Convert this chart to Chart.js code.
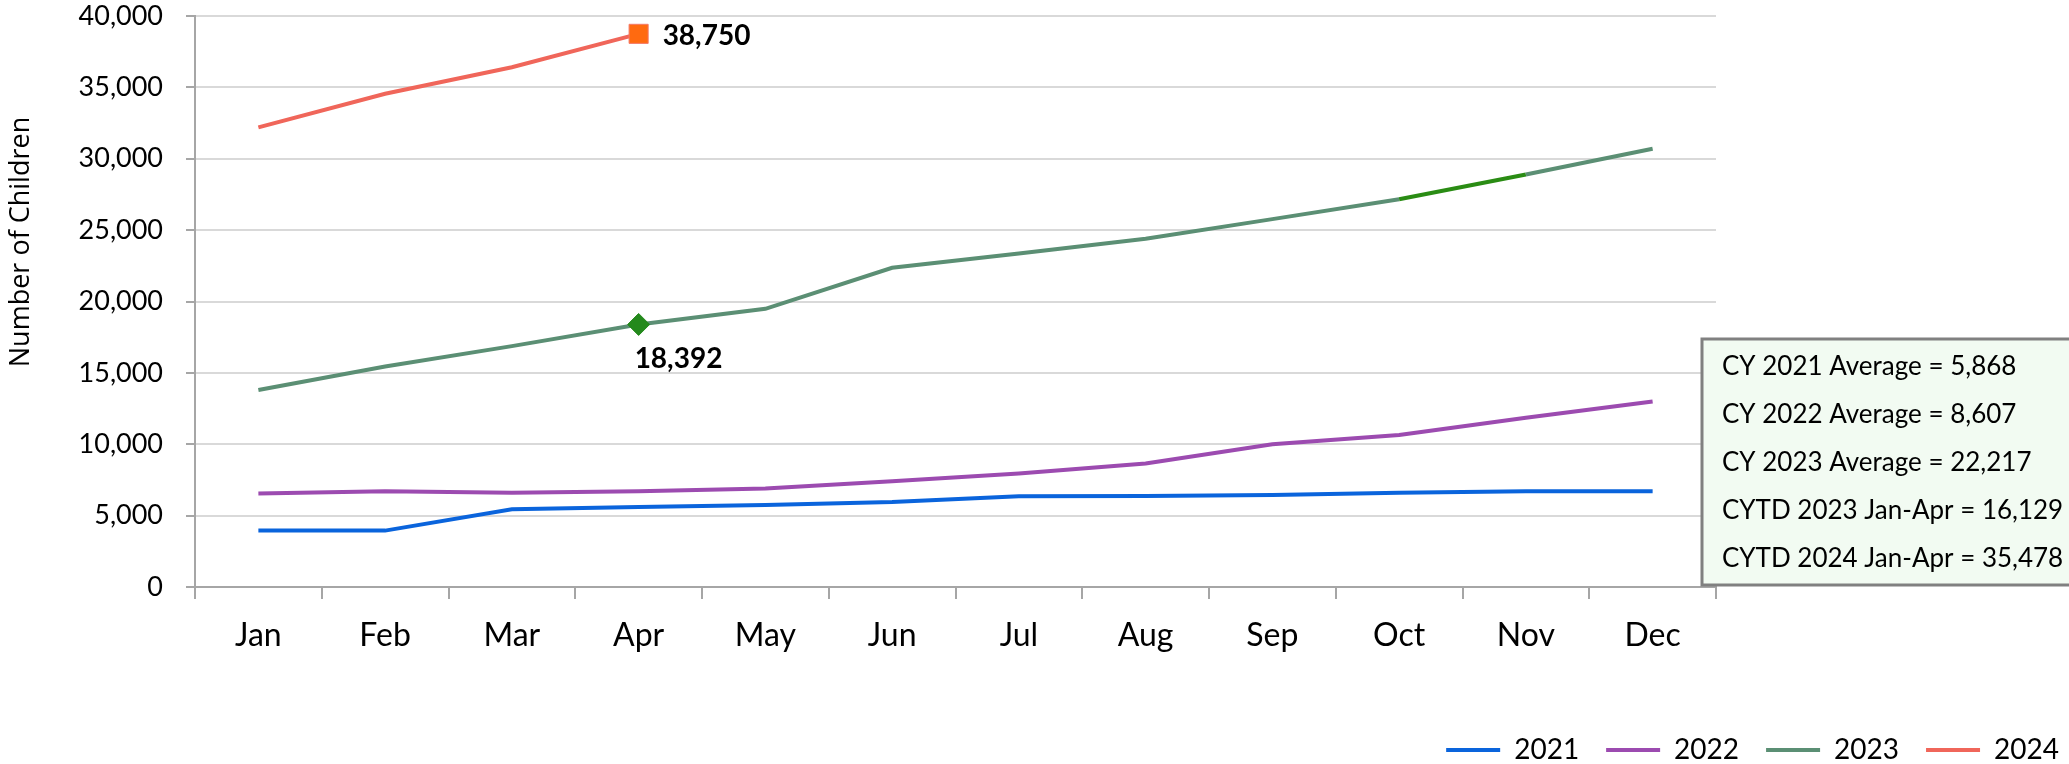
<!DOCTYPE html>
<html>
<head>
<meta charset="utf-8">
<script src="https://cdn.jsdelivr.net/npm/chart.js@4.4.1/dist/chart.umd.min.js"></script>
<style>
  html, body { margin: 0; padding: 0; background: #fff; }
  canvas { display: block; }
</style>
</head>
<body>
<canvas id="chart-children" width="2069" height="764"></canvas>
<script>
var months = ["Jan", "Feb", "Mar", "Apr", "May", "Jun", "Jul", "Aug", "Sep", "Oct", "Nov", "Dec"];
var years = ["2021", "2022", "2023", "2024"];

var data2021 = [3950, 3950, 5450, 5600, 5750, 5950, 6350, 6380, 6450, 6600, 6700, 6700];
var data2022 = [6550, 6700, 6600, 6700, 6900, 7400, 7950, 8650, 10000, 10650, 11850, 13000];
var data2023 = [13800, 15450, 16874, 18392, 19490, 22360, 23370, 24390, 25770, 27160, 28900, 30700];
var data2024 = [32200, 34550, 36412, 38750];

var labelIndex = 3; // Apr, the marked point
var yTitle = "Number of Children";
var notes = [
  "CY 2021 Average = 5,868",
  "CY 2022 Average = 8,607",
  "CY 2023 Average = 22,217",
  "CYTD 2023 Jan-Apr = 16,129",
  "CYTD 2024 Jan-Apr = 35,478",
];

var fontMain = "Lato";

function fmt(v) {
  return Number(v).toLocaleString("en-US");
}

// point labels for the marked Apr values + the y title
var pointLabels = {
  id: "pointLabels",
  afterDatasetsDraw: function (chart) {
    var c = chart.ctx;
    c.save();
    c.font = "bold 28px " + fontMain;
    c.fillStyle = "#000";
    c.textBaseline = "middle";
    c.textAlign = "left";
    var m4 = chart.getDatasetMeta(3).data[labelIndex];
    c.fillText(fmt(data2024[labelIndex]), m4.x + 24, m4.y + 2);
    var m3 = chart.getDatasetMeta(2).data[labelIndex];
    c.fillText(fmt(data2023[labelIndex]), m3.x - 4, m3.y + 35);

    // axis title sits above the middle of the axis, as in the original
    c.translate(21, chart.chartArea.top + 226);
    c.rotate(-Math.PI / 2);
    c.textAlign = "center";
    c.font = "27px Open Sans";
    c.fillText(yTitle, 0, 0);
    c.restore();
  },
};

// notes box at the lower right
var notesBox = {
  id: "notesBox",
  afterDraw: function (chart) {
    var c = chart.ctx;
    var area = chart.chartArea;
    var left = area.right - 14;
    var top = area.bottom - 248;
    c.save();
    c.fillStyle = "#f2fbf2";
    c.fillRect(left, top, 500, 246);
    c.strokeStyle = "#808080";
    c.lineWidth = 3;
    c.strokeRect(left, top, 500, 246);
    c.font = "26px " + fontMain;
    c.fillStyle = "#000";
    c.textBaseline = "middle";
    c.textAlign = "left";
    for (var i = 0; i < notes.length; i++) {
      c.fillText(notes[i], left + 20, top + 28 + i * 47.8);
    }
    c.restore();
  },
};

var ctx = document.getElementById("chart-children").getContext("2d");

new Chart(ctx, {
  type: "line",
  data: {
    labels: months,
    datasets: [
      {
        label: years[0],
        data: data2021,
        borderColor: "#0a64dc",
        backgroundColor: "#0a64dc",
        borderWidth: 4,
        pointRadius: 0,
        tension: 0,
      },
      {
        label: years[1],
        data: data2022,
        borderColor: "#9c4bb0",
        backgroundColor: "#9c4bb0",
        borderWidth: 4,
        pointRadius: 0,
        tension: 0,
      },
      {
        label: years[2],
        data: data2023,
        borderColor: "#5b8f74",
        backgroundColor: "#5b8f74",
        borderWidth: 4,
        tension: 0,
        pointStyle: "rectRot",
        pointRadius: function (c) {
          return c.dataIndex === labelIndex ? 11 : 0;
        },
        pointBackgroundColor: "#24891c",
        pointBorderColor: "#24891c",
        pointBorderWidth: 1,
        segment: {
          borderColor: function (s) {
            return s.p0DataIndex === 9 ? "#2a8c14" : undefined;
          },
        },
      },
      {
        label: years[3],
        data: data2024,
        borderColor: "#f0665a",
        backgroundColor: "#f0665a",
        borderWidth: 4,
        tension: 0,
        pointStyle: "rect",
        pointRadius: function (c) {
          return c.dataIndex === labelIndex ? 13.5 : 0;
        },
        pointBackgroundColor: "#ff6a10",
        pointBorderColor: "#f47a6a",
        pointBorderWidth: 1,
      },
    ],
  },
  options: {
    responsive: false,
    animation: false,
    layout: {
      padding: { left: 0, right: -17, top: 7, bottom: -10 },
    },
    plugins: {
      legend: {
        display: true,
        position: "bottom",
        align: "end",
        labels: {
          boxWidth: 54,
          boxHeight: 4,
          padding: 27,
          color: "#000",
          font: { size: 28, family: fontMain },
          generateLabels: function (chart) {
            return chart.data.datasets.map(function (ds, i) {
              return {
                text: ds.label,
                fillStyle: ds.borderColor,
                strokeStyle: ds.borderColor,
                lineWidth: 0,
                datasetIndex: i,
                fontColor: "#000",
              };
            });
          },
        },
      },
      tooltip: { enabled: false },
    },
    scales: {
      x: {
        offset: true,
        grid: {
          offset: true,
          display: true,
          drawOnChartArea: false,
          drawTicks: true,
          tickLength: 12,
          color: "#a6a6a6",
          lineWidth: 2,
        },
        border: { display: true, color: "#a6a6a6", width: 2 },
        ticks: {
          padding: 17,
          color: "#000",
          maxRotation: 0,
          font: { size: 32, family: fontMain },
        },
        afterFit: function (scale) {
          scale.height = 122;
        },
      },
      y: {
        min: 0,
        max: 40000,
        grid: {
          display: true,
          drawOnChartArea: true,
          drawTicks: true,
          tickLength: 9,
          color: "#d9d9d9",
          tickColor: "#a6a6a6",
          lineWidth: 2,
        },
        border: { display: true, color: "#a6a6a6", width: 2 },
        ticks: {
          stepSize: 5000,
          padding: 23,
          color: "#000",
          font: { size: 27, family: fontMain },
          callback: function (value) {
            return fmt(value);
          },
        },
        afterFit: function (scale) {
          scale.width = 195;
          // keep the label gap from pushing the plot down
          scale.paddingTop = 16;
          scale.paddingBottom = 16;
        },
      },
      y2: {
        position: "right",
        display: true,
        grid: { display: false, drawTicks: false },
        border: { display: false },
        ticks: { display: false },
        afterFit: function (scale) {
          scale.width = 370;
        },
      },
    },
  },
  plugins: [pointLabels, notesBox],
});
</script>
</body>
</html>
